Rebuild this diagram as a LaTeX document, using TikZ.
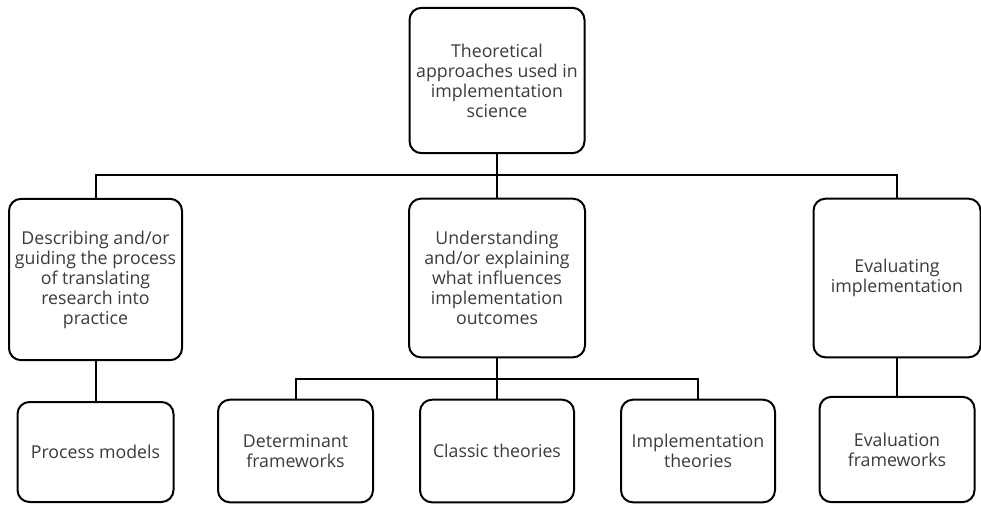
\documentclass[tikz,border=0pt]{standalone}
\usepackage{fontspec}
\setmainfont{Open Sans}
\usetikzlibrary{positioning,calc}
\definecolor{txtgray}{HTML}{3A3A3A}

\begin{document}
\begin{tikzpicture}[
  x=0.75pt,y=-0.75pt,
  box/.style={rectangle,draw=black,line width=1.5pt,rounded corners=9pt,align=center,text=txtgray,font=\fontsize{13.3}{15}\selectfont,minimum width=#1*0.75pt,inner sep=0pt},
  link/.style={draw=black,line width=1.5pt},
]
\useasboundingbox (0,0) rectangle (981,504);

% Top
\node[box=175,minimum height=109pt] (top) at (497,80.5) {Theoretical\\approaches used in\\implementation\\science};

% Second row
\node[box=173,minimum height=121pt] (desc)  at (95.5,279.5) {Describing and/or\\guiding the process\\of translating\\research into\\practice};
\node[box=176,minimum height=119pt] (under) at (497,278)    {Understanding\\and/or explaining\\what influences\\implementation\\outcomes};
\node[box=167,minimum height=119pt] (eval)  at (897,278)    {Evaluating\\implementation};

% Third row
\node[box=156,minimum height=75pt] (process) at (95.5,452)  {Process models};
\node[box=155,minimum height=77pt] (determ)  at (295.5,451) {Determinant\\frameworks};
\node[box=154,minimum height=77pt] (classic) at (497,451)   {Classic theories};
\node[box=154,minimum height=77pt] (impl)    at (698,451)   {Implementation\\theories};
\node[box=155,minimum height=79pt] (evalfw)  at (897,449.5) {Evaluation\\frameworks};

% Bus lines
\coordinate (bus1) at (0,175);
\coordinate (bus2) at (0,379);

\draw[link] (top.south) -- (under.north);
\draw[link] (desc.north) |- (top.south |- bus1) -| (eval.north);

\draw[link] (desc.south) -- (process.north);
\draw[link] (under.south) -- (classic.north);
\draw[link] (determ.north) |- (under.south |- bus2) -| (impl.north);
\draw[link] (eval.south) -- (evalfw.north);

\end{tikzpicture}
\end{document}
